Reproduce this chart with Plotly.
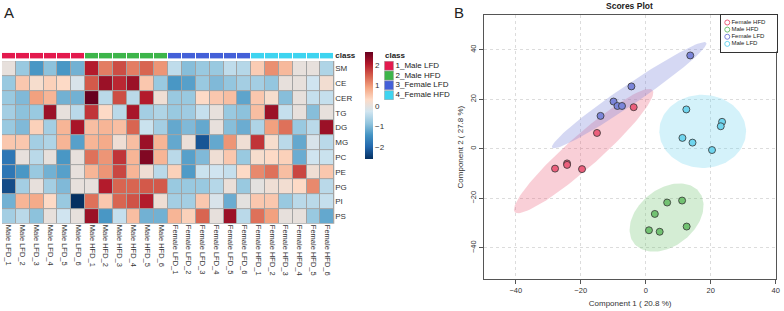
import numpy as np
import plotly.graph_objects as go

W, H = 784, 311
FONT = "Liberation Sans, Arial, sans-serif"

# ---------------- data: heatmap (panel A) ----------------
lipids = ["SM", "CE", "CER", "TG", "DG", "MG", "PC", "PE", "PG", "PI", "PS"]
samples = ["Male LFD_1", "Male LFD_2", "Male LFD_3", "Male LFD_4", "Male LFD_5", "Male LFD_6",
           "Male HFD_1", "Male HFD_2", "Male HFD_3", "Male HFD_4", "Male HFD_5", "Male HFD_6",
           "Female LFD_1", "Female LFD_2", "Female LFD_3", "Female LFD_4", "Female LFD_5", "Female LFD_6",
           "Female HFD_1", "Female HFD_2", "Female HFD_3", "Female HFD_4", "Female HFD_5", "Female HFD_6"]
class_names = ["1_Male LFD", "2_Male HFD", "3_Female LFD", "4_Female HFD"]
class_colors = ["#E31A4E", "#3DB54A", "#4460D8", "#3ED4F0"]
sample_class = [0]*6 + [1]*6 + [2]*6 + [3]*6

z_SM  = [0.0, -0.8, -1.4, -0.9, -1.4, -1.1, 2.0, 1.2, 1.6, 1.2, 1.4, 1.0, -0.45, -0.95, -0.8, -0.8, -0.45, -0.55, 0.45, 1.05, 0.65, 0.0, 0.0, -0.6]
z_CE  = [-0.8, 0.5, 0.2, 0.4, 0.3, -0.2, 1.5, 2.2, 1.9, 2.2, 0.5, -0.8, -1.4, -1.3, -0.8, -1.0, -0.85, -0.7, -0.7, -0.85, 0.0, 0.0, -0.3, 0.15]
z_CER = [-0.8, -1.0, 0.9, 0.7, -1.1, -1.1, 2.6, -0.5, 1.6, -0.5, 2.0, 0.1, -0.8, -0.8, 0.3, 0.5, 0.6, -1.25, 0.5, 0.2, -0.95, 0.0, -0.4, -0.4]
z_TG  = [-0.7, -0.9, -0.8, 2.2, 0.0, -0.5, 1.8, 0.3, -0.5, 2.1, -0.7, -0.6, -0.8, -0.75, -0.4, 0.0, -0.8, -0.9, 0.6, 2.2, -0.4, 0.0, -0.95, 0.0]
z_DG  = [-0.8, -1.0, 0.4, -0.7, 0.7, 2.1, 0.6, 0.7, 0.6, 1.4, -0.35, -0.7, -1.2, -1.0, -1.2, 0.0, -0.95, -1.15, -0.6, 0.9, 1.3, -0.8, -0.5, 2.2]
z_MG  = [0.5, 0.5, -0.7, -0.6, 0.7, -1.3, 0.7, 0.8, 0.1, 0.6, 2.2, 0.7, -1.2, 0.05, -2.2, -1.2, 1.0, 0.1, 1.8, 0.2, -0.5, -1.2, -0.2, -0.5]
z_PC  = [-1.8, 0.0, -0.5, 0.0, -1.4, 0.0, 1.3, 1.0, 1.8, 0.7, 2.4, 0.7, -0.5, -1.3, -1.0, 0.1, 0.5, -0.8, 0.2, 0.3, 0.4, -1.15, -0.3, -0.35]
z_PE  = [-1.8, -1.4, -0.8, -1.1, -1.3, 0.0, 0.7, 1.0, 1.65, 0.7, 0.1, -0.5, 0.4, -1.35, -0.35, -0.3, -0.4, 0.3, 1.1, 1.3, 0.6, 1.65, 0.1, 0.5]
z_PG  = [-2.3, -0.7, 0.0, -0.7, -1.0, 0.0, 0.0, 2.0, 1.4, 1.4, 1.5, 1.5, -0.8, -0.8, -0.8, -0.55, 0.05, -0.8, -0.05, 0.1, 0.15, 0.3, 1.1, -0.5]
z_PI  = [-1.1, 0.7, 0.8, 0.3, -0.8, -2.6, 1.3, 0.5, 1.4, 1.55, 2.0, 0.1, -0.7, -0.7, 0.5, -0.2, -1.15, -0.05, 0.5, 0.5, -0.8, -0.5, -0.5, -0.4]
z_PS  = [-0.7, -0.5, -0.9, 0.0, -0.3, 0.0, 2.2, -1.4, -0.4, 0.6, -1.1, -1.1, 0.7, 0.4, 1.4, 0.0, 2.2, -0.5, 1.3, 0.9, 0.0, 0.0, -0.8, -1.2]
z_rows = [z_SM, z_CE, z_CER, z_TG, z_DG, z_MG, z_PC, z_PE, z_PG, z_PI, z_PS]

# ---------------- data: PCA scores (panel B) ----------------
group_names = ["Female HFD", "Male HFD", "Female LFD", "Male LFD"]
pc1_female_hfd = [-3.7, -15.0, -27.9, -24.2, -24.2, -19.6]
pc2_female_hfd = [16.8, 6.4, -8.0, -5.9, -6.5, -8.2]
pc1_male_hfd = [11.2, 6.6, 2.8, 1.0, 4.3, 12.6]
pc2_male_hfd = [-20.9, -21.7, -26.3, -32.9, -33.5, -31.4]
pc1_female_lfd = [-9.9, -8.7, -7.3, -13.9, -4.4, 13.7]
pc2_female_lfd = [19.1, 17.3, 17.3, 13.3, 25.2, 37.7]
pc1_male_lfd = [12.5, 23.5, 23.1, 11.3, 14.4, 20.4]
pc2_male_lfd = [15.9, 10.9, 9.1, 4.4, 2.5, -0.5]
pc1 = [pc1_female_hfd, pc1_male_hfd, pc1_female_lfd, pc1_male_lfd]
pc2 = [pc2_female_hfd, pc2_male_hfd, pc2_female_lfd, pc2_male_lfd]
point_colors = ["#EC5F7C", "#72C272", "#7B85DA", "#6FD5EE"]
ellipse_fill = ["rgba(236,95,124,0.30)", "rgba(114,194,114,0.30)",
                "rgba(123,133,218,0.32)", "rgba(111,213,238,0.30)"]
x_ticks = [-40, -20, 0, 20, 40]
y_ticks = [-40, -20, 0, 20, 40]


def fx(px):
    return px / W


def fy(py):
    return 1 - py / H


def conf_ellipse(x, y, level_chi2=5.991, n=120):
    x = np.asarray(x, float)
    y = np.asarray(y, float)
    cov = np.cov(np.vstack([x, y]))
    vals, vecs = np.linalg.eigh(cov)
    t = np.linspace(0, 2 * np.pi, n)
    circ = np.vstack([np.cos(t), np.sin(t)])
    pts = vecs @ (np.sqrt(vals * level_chi2)[:, None] * circ)
    return x.mean() + pts[0], y.mean() + pts[1]


# RdBu (reversed) 10-colour ramp as in pheatmap
rdbu = ["#053061", "#2166AC", "#4393C3", "#92C5DE", "#D1E5F0",
        "#FDDBC7", "#F4A582", "#D6604D", "#B2182B", "#67001F"]
cs = [[i / (len(rdbu) - 1), c] for i, c in enumerate(rdbu)]

disc = []
for i, c in enumerate(class_colors):
    disc.append([i / 4, c])
    disc.append([(i + 1) / 4, c])

fig = go.Figure()

# main heatmap
fig.add_trace(go.Heatmap(
    z=z_rows, x=samples, y=lipids, colorscale=cs, zmin=-2.6, zmax=2.6,
    xgap=1, ygap=1, xaxis="x", yaxis="y", hoverinfo="skip",
    colorbar=dict(x=fx(366.5), xanchor="left", y=fy(52), yanchor="top",
                  len=107, lenmode="pixels", thickness=8, xpad=0, ypad=0,
                  outlinewidth=0, tickvals=[-2, -1, 0, 1, 2], ticks="",
                  tickfont=dict(size=8, color="#333", family=FONT))))

# class annotation bar
fig.add_trace(go.Heatmap(
    z=[sample_class], x=samples, y=["class"], colorscale=disc, zmin=0, zmax=3,
    showscale=False, xgap=1, xaxis="x", yaxis="y2", hoverinfo="skip"))

# class legend (swatches)
fig.add_trace(go.Scatter(
    x=[0] * len(class_names), y=class_names, mode="markers+text",
    marker=dict(symbol="square", size=9, color=class_colors,
                line=dict(width=0.5, color="#999")),
    text=class_names, textposition="middle right",
    textfont=dict(size=8, color="#222", family=FONT),
    xaxis="x4", yaxis="y4", showlegend=False, hoverinfo="skip"))

# PCA ellipses
for i in range(4):
    ex, ey = conf_ellipse(pc1[i], pc2[i])
    fig.add_trace(go.Scatter(x=ex, y=ey, mode="lines", fill="toself",
                             fillcolor=ellipse_fill[i], line=dict(width=0),
                             xaxis="x3", yaxis="y3", showlegend=False, hoverinfo="skip"))
# PCA points
for i in range(4):
    fig.add_trace(go.Scatter(x=pc1[i], y=pc2[i], mode="markers",
                             marker=dict(size=7, color=point_colors[i],
                                         line=dict(width=0.8, color="#333")),
                             xaxis="x3", yaxis="y3", showlegend=False, hoverinfo="skip"))

# PCA legend box
fig.add_trace(go.Scatter(
    x=[0] * 4, y=list(range(4)), mode="markers+text",
    marker=dict(symbol="circle-open", size=5, color=point_colors, line=dict(width=1)),
    text=group_names, textposition="middle right",
    textfont=dict(size=6, color="#222", family=FONT),
    xaxis="x5", yaxis="y5", showlegend=False, hoverinfo="skip"))

hidden = dict(visible=False, showgrid=False, zeroline=False, fixedrange=True)

fig.update_layout(
    width=W, height=H, margin=dict(l=0, r=0, t=0, b=0),
    paper_bgcolor="white", plot_bgcolor="white",
    font=dict(family=FONT, color="#333"),
    showlegend=False,
    xaxis=dict(domain=[fx(2), fx(336)], anchor="y", range=[-0.5, 23.5],
               tickangle=90, ticks="", showgrid=False, zeroline=False,
               tickfont=dict(size=7.5, color="#333")),
    yaxis=dict(domain=[fy(225), fy(60.7)], anchor="x", side="right",
               autorange="reversed", ticks="", showgrid=False, zeroline=False,
               tickfont=dict(size=8, color="#333")),
    yaxis2=dict(domain=[fy(58), fy(52.3)], anchor="x", side="right",
                ticks="", showgrid=False, zeroline=False,
                tickvals=["class"], ticktext=["<b>class</b>"],
                tickfont=dict(size=8, color="#222")),
    xaxis4=dict(domain=[fx(386), fx(470)], anchor="y4", range=[-0.5, 8], **hidden),
    yaxis4=dict(domain=[fy(100), fy(60.5)], anchor="x4", type="category",
                range=[3.5, -0.5], **hidden),
    xaxis3=dict(domain=[fx(486.7), fx(780)], anchor="y3", range=[-49.7, 40.1],
                tickvals=x_ticks, showline=True, mirror=True, linecolor="#555",
                linewidth=1, ticks="outside", ticklen=4, tickcolor="#555",
                showgrid=True, gridcolor="#dcdcdc", griddash="dot", zeroline=False,
                tickfont=dict(size=7.5, color="#333"),
                title=dict(text="Component 1 ( 20.8 %)", font=dict(size=8, color="#333"),
                           standoff=6)),
    yaxis3=dict(domain=[fy(281), fy(14)], anchor="x3", range=[-52.7, 54.1],
                tickvals=y_ticks, tickangle=-90, showline=True, mirror=True,
                linecolor="#555", linewidth=1, ticks="outside", ticklen=4,
                tickcolor="#555", showgrid=True, gridcolor="#dcdcdc", griddash="dot",
                zeroline=False, tickfont=dict(size=7.5, color="#333"),
                title=dict(text="Component 2 ( 27.8 %)", font=dict(size=8, color="#333"),
                           standoff=4)),
    xaxis5=dict(domain=[fx(725), fx(781)], anchor="y5", range=[-1, 8.33],
                showline=True, mirror=True, linecolor="#333", linewidth=1,
                ticks="", showticklabels=False, showgrid=False, zeroline=False),
    yaxis5=dict(domain=[fy(51), fy(14)], anchor="x5", range=[4.07, -1.07],
                showline=True, mirror=True, linecolor="#333", linewidth=1,
                ticks="", showticklabels=False, showgrid=False, zeroline=False),
    shapes=[dict(type="rect", xref="x domain", yref="y domain", x0=0, x1=1, y0=0, y1=1,
                 fillcolor="#a3a3a3", line=dict(width=0), layer="below")],
    annotations=[
        dict(text="A", x=fx(2), y=fy(1), xref="paper", yref="paper", xanchor="left",
             yanchor="top", showarrow=False, font=dict(size=15, color="#222")),
        dict(text="B", x=fx(454), y=fy(1), xref="paper", yref="paper", xanchor="left",
             yanchor="top", showarrow=False, font=dict(size=15, color="#222")),
        dict(text="<b>class</b>", x=fx(385), y=fy(55), xref="paper", yref="paper",
             xanchor="left", yanchor="middle", showarrow=False,
             font=dict(size=8, color="#222")),
        dict(text="<b>Scores Plot</b>", x=fx(633), y=fy(5), xref="paper", yref="paper",
             xanchor="center", yanchor="middle", showarrow=False,
             font=dict(size=8.5, color="#222")),
    ],
)

fig.write_html("out.html", config={"displayModeBar": False, "staticPlot": True},
               post_script="document.body.style.margin='0';document.body.style.overflow='hidden';")
